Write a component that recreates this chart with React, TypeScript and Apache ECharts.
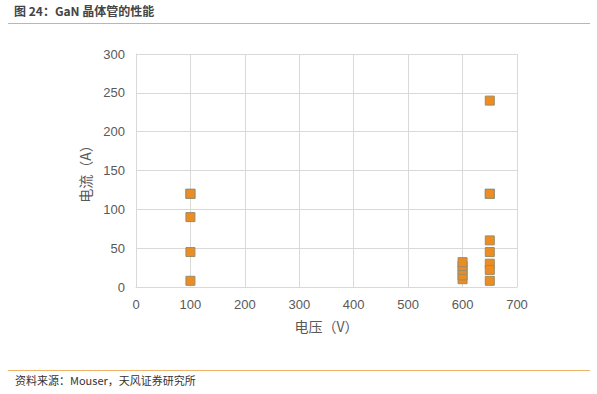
import React, { useEffect, useRef } from "react";
import * as echarts from "echarts";

const title = "图 24：GaN 晶体管的性能";
const source = "资料来源：Mouser，天风证券研究所";
const xName = "电压（V）";
const yName = "电流（A）";
const xTicks = [0, 700, 100];
const yTicks = [0, 300, 50];

// series 1 (blue markers, mostly hidden beneath)
const blueVoltage = [100, 650];
const blueCurrent = [120, 120];
// series 2 (orange markers)
const orangeVoltage = [100, 100, 100, 100, 600, 600, 600, 600, 600, 650, 650, 650, 650, 650, 650, 650];
const orangeCurrent = [120, 90, 45, 8, 10, 15, 22, 27, 32, 240, 120, 60, 45, 30, 22, 8];

export default function App() {
  const ref = useRef<HTMLDivElement>(null);
  useEffect(() => {
    const chart = echarts.init(ref.current!, null, { renderer: "svg" });
    const font = "'Microsoft YaHei', 'Noto Sans CJK SC', sans-serif";
    const numFont = "'Liberation Sans', Arial, sans-serif";
    chart.setOption({
      animation: false,
      backgroundColor: "#ffffff",
      textStyle: { fontFamily: font },
      grid: { left: 136, right: 80, top: 54, bottom: 107 },
      graphic: [
        { type: "text", left: 14, top: 4, style: { text: title, font: `bold 12px ${font}`, fill: "#444444" } },
        { type: "line", shape: { x1: 8, y1: 23.5, x2: 590, y2: 23.5 }, style: { stroke: "#d7b664", lineWidth: 1.2 } },
        { type: "line", shape: { x1: 8, y1: 370.5, x2: 590, y2: 370.5 }, style: { stroke: "#efb46a", lineWidth: 1.2 } },
        { type: "text", left: 15, top: 374, style: { text: source, font: `11px ${font}`, fill: "#333333" } },
      ],
      xAxis: {
        type: "value",
        min: xTicks[0],
        max: xTicks[1],
        interval: xTicks[2],
        name: xName,
        nameLocation: "middle",
        nameGap: 32,
        nameTextStyle: { fontSize: 14, color: "#595959", fontFamily: font },
        axisLine: { show: true, lineStyle: { color: "#d9d9d9" } },
        axisTick: { show: false },
        axisLabel: { color: "#595959", fontSize: 13, margin: 11, fontFamily: numFont },
        splitLine: { show: true, lineStyle: { color: "#d9d9d9" } },
      },
      yAxis: {
        type: "value",
        min: yTicks[0],
        max: yTicks[1],
        interval: yTicks[2],
        name: yName,
        nameLocation: "middle",
        nameGap: 44,
        nameTextStyle: { fontSize: 14, color: "#595959", fontFamily: font },
        axisLine: { show: true, lineStyle: { color: "#d9d9d9" } },
        axisTick: { show: false },
        axisLabel: { color: "#595959", fontSize: 13, margin: 11, fontFamily: numFont },
        splitLine: { show: true, lineStyle: { color: "#d9d9d9" } },
      },
      series: [
        {
          type: "scatter",
          symbol: "rect",
          symbolSize: 10,
          itemStyle: { color: "#6e9fb8", opacity: 1 },
          data: blueVoltage.map((v, i) => [v, blueCurrent[i]]),
          z: 1,
        },
        {
          type: "scatter",
          symbol: "rect",
          symbolSize: 9,
          itemStyle: { color: "#ec8c23", borderColor: "#9c8c66", borderWidth: 1, opacity: 1 },
          data: orangeVoltage.map((v, i) => [v, orangeCurrent[i]]),
          z: 2,
        },
      ],
    });
    return () => chart.dispose();
  }, []);
  return <div ref={ref} style={{ position: "fixed", left: 0, top: 0, width: 597, height: 394 }} />;
}
